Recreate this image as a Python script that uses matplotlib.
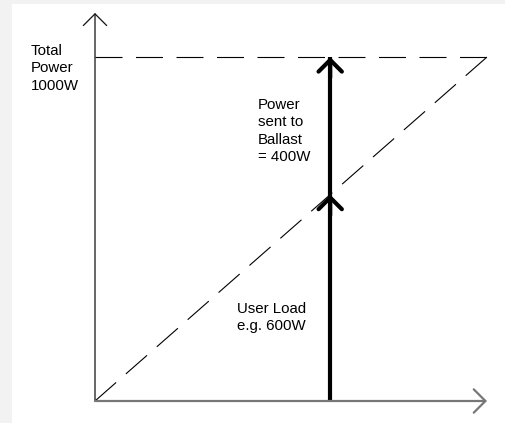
import matplotlib
matplotlib.use("Agg")
import matplotlib.pyplot as plt
from matplotlib.patches import Rectangle

plt.rcParams["font.family"] = ["Liberation Sans", "DejaVu Sans"]
plt.rcParams["lines.scale_dashes"] = False

# values
total_power = 1000
user_load = 600
ballast = total_power - user_load
x_max = 1.0
load_x = user_load / total_power

W, H = 506, 423
fig = plt.figure(figsize=(W / 100, H / 100), dpi=100)
fig.patch.set_facecolor("#f2f2f2")
fig.patches.append(Rectangle((12 / W, 0), 1 - 12 / W, 1 - 4 / H,
                             transform=fig.transFigure, facecolor="white",
                             edgecolor="none", zorder=-5))

# origin at (95, 401) px, (1.0, 1000) at (487, 57) px
ax = fig.add_axes([95 / W, (H - 401) / H, (487 - 95) / W, (401 - 57) / H])
ax.set_xlim(0, x_max)
ax.set_ylim(0, total_power)
ax.set_axis_off()
ax.patch.set_alpha(0)

px = 72 / 100  # points per pixel

# total power level (10 dashes) and diagonal (13 dashes), dash at both ends
ax.plot([0, x_max], [total_power, total_power], color="black", lw=0.8,
        linestyle=(0, (27.0 * px, 13.5 * px)), clip_on=False)
ax.plot([0, x_max], [0, total_power], color="black", lw=0.8,
        linestyle=(0, (28.1 * px, 13.0 * px)), clip_on=False)


def arrow(x0, y0, x1, y1, color="black", lw=1.0, scale=20):
    ax.annotate("", xy=(x1, y1), xytext=(x0, y0), annotation_clip=False,
                arrowprops=dict(arrowstyle="->,head_length=0.42,head_width=0.42",
                                color=color, lw=lw, shrinkA=0, shrinkB=0,
                                mutation_scale=scale))


# axes
arrow(0, 0, 0, total_power * 1.128, color="#111111", lw=0.9)
arrow(0, 0, x_max, 0, color="#777777", lw=1.6)

# thick arrows: user load and power sent to ballast
ax.plot([load_x, load_x], [0, total_power], color="black", lw=3.0,
        solid_capstyle="butt", clip_on=False)
arrow(load_x, user_load - 60, load_x, user_load, lw=3.0)
arrow(load_x, total_power - 60, load_x, total_power, lw=3.0)

fs = 10.8
ls = 1.3
fig.text(31 / W, 1 - 44 / H, "Total\nPower\n1000W", fontsize=fs,
         va="top", ha="left", linespacing=ls)
fig.text(258 / W, 1 - 98 / H, "Power\nsent to\nBallast\n= %dW" % ballast,
         fontsize=fs, va="top", ha="left", linespacing=ls)
fig.text(237 / W, 1 - 302 / H, "User Load\ne.g. %dW" % user_load,
         fontsize=fs, va="top", ha="left", linespacing=ls)

fig.savefig("out.png", dpi=100, facecolor=fig.get_facecolor())
